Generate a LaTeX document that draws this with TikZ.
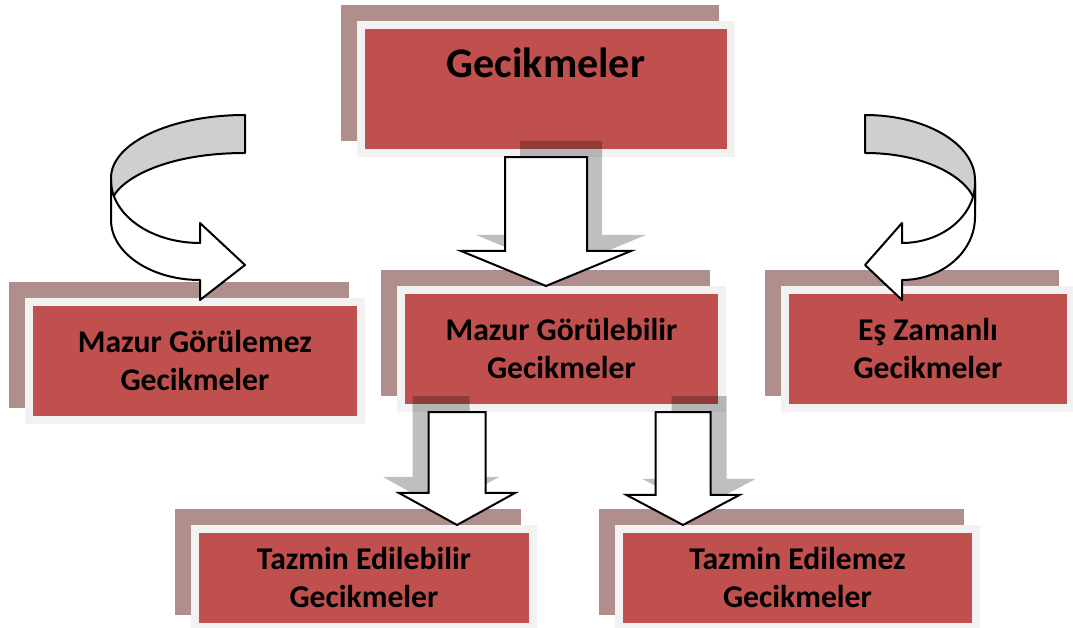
\documentclass[tikz,border=0pt]{standalone}
\usepackage{fontspec}
\setmainfont{Carlito}
\usetikzlibrary{calc, shadows}

\definecolor{boxred}{HTML}{C0504D}
\definecolor{framegray}{HTML}{F2F2F2}
\definecolor{shadowrose}{HTML}{AF8E8C}
\definecolor{ribbongray}{HTML}{CFCFCF}

\tikzset{
  box/.style={draw=framegray, line width=0.2cm, fill=boxred, inner sep=0pt, align=center,
    font=\bfseries\fontsize{22.5}{27}\selectfont,
    general shadow={fill=shadowrose, draw=shadowrose, line width=0.2cm,
      shadow xshift=-0.4cm, shadow yshift=0.4cm}},
  bigarrow/.style={draw=black, line width=0.05cm, fill=white, line join=miter},
  arrowshadow/.style={fill=black, fill opacity=0.25},
  ribbon/.style={draw=black, line width=0.05cm, line join=round},
}

% block arrow: start, tip, half shaft, half head, head length, shadow xshift
\newcommand{\blockarrow}[6]{%
  \path[arrowshadow, transform canvas={shift={(#6,-16)}}]
    ($(#1)+(-#3,0)$) -- ($(#1)+(#3,0)$) -- ($(#2)+(#3,-#5)$) -- ($(#2)+(#4,-#5)$)
    -- (#2) -- ($(#2)+(-#4,-#5)$) -- ($(#2)+(-#3,-#5)$) -- cycle;
  \path[bigarrow]
    ($(#1)+(-#3,0)$) -- ($(#1)+(#3,0)$) -- ($(#2)+(#3,-#5)$) -- ($(#2)+(#4,-#5)$)
    -- (#2) -- ($(#2)+(-#4,-#5)$) -- ($(#2)+(-#3,-#5)$) -- cycle;
}

\begin{document}
\begin{tikzpicture}[x=0.025cm, y=-0.025cm]
    \useasboundingbox (0,0) rectangle (1073,628);

    % boxes
    \node[box, minimum width=9.25cm, minimum height=3.2cm, font=\bfseries\fontsize{30}{36}\selectfont,
          text height=0.7cm, text depth=1.25cm] (delays) at (546,89) {Gecikmeler};
    \node[box, minimum width=8.3cm, minimum height=2.95cm] (inexcusable) at (195,361) {Mazur Görülemez\\Gecikmeler};
    \node[box, minimum width=8.025cm, minimum height=2.95cm] (excusable) at (561.5,349) {Mazur Görülebilir\\Gecikmeler};
    \node[box, minimum width=7.15cm, minimum height=2.95cm] (concurrent) at (928,349) {Eş Zamanlı\\Gecikmeler};
    \node[box, minimum width=8.45cm, minimum height=2.45cm] (compensable) at (364,578) {Tazmin Edilebilir\\Gecikmeler};
    \node[box, minimum width=8.925cm, minimum height=2.45cm] (noncompensable) at (797.5,578) {Tazmin Edilemez\\Gecikmeler};

    % straight arrows
    \coordinate (midtip) at (delays.south |- excusable.north);
    \coordinate (lstart) at ($(excusable.south)+(-104.5,0)$);
    \coordinate (ltip) at (lstart |- compensable.north);
    \coordinate (rstart) at ($(excusable.south)+(121.5,0)$);
    \coordinate (rtip) at (rstart |- noncompensable.north);
    \blockarrow{delays.south}{midtip}{41}{85}{35}{15}
    \blockarrow{lstart}{ltip}{28.5}{58}{32}{-16}
    \blockarrow{rstart}{rtip}{27.5}{56.5}{30}{16}

    % curved arrows
    \draw[ribbon, fill=ribbongray] (245,115) .. controls (171,115) and (111,143) .. (111,178)
        -- (111,205) .. controls (111,185) and (157,153) .. (245,153) -- cycle;
    \draw[ribbon, fill=white] (111,180) -- (111,220) .. controls (111,253) and (151,280) .. (200,280)
        -- (200,300) -- (245,265) -- (200,223) -- (200,243) .. controls (151,243) and (111,215) .. (111,180) -- cycle;
    \draw[ribbon, fill=ribbongray] (865,115) .. controls (926,115) and (975,144) .. (975,180)
        -- (975,205) .. controls (975,185) and (935,153) .. (865,153) -- cycle;
    \draw[ribbon, fill=white] (975,183) -- (975,217) .. controls (975,252) and (942,280) .. (902,280)
        -- (902,300) -- (865,265) -- (902,223) -- (902,243) .. controls (942,243) and (975,216) .. (975,183) -- cycle;
\end{tikzpicture}
\end{document}
